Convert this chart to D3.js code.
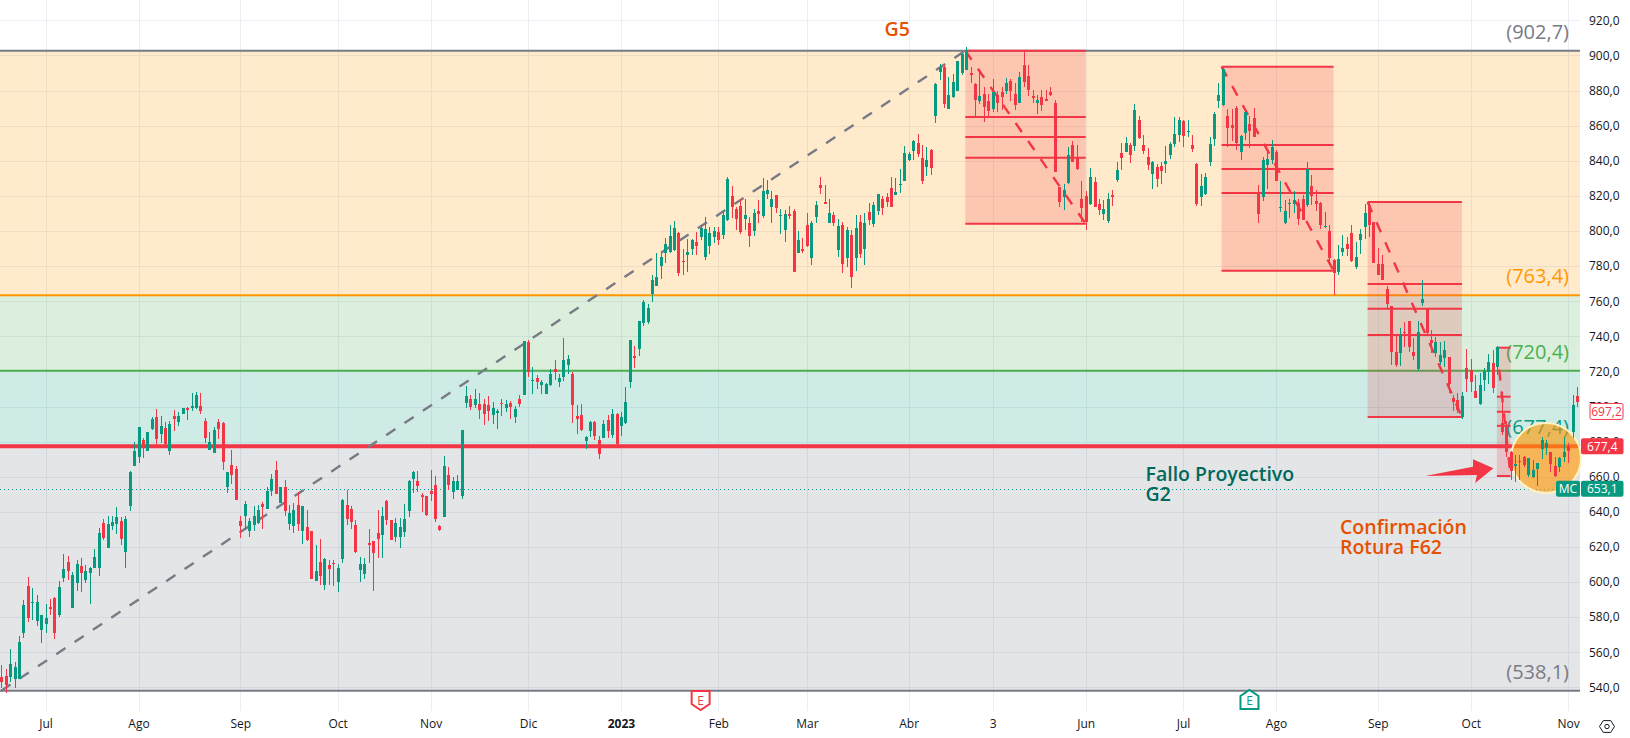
<!DOCTYPE html>
<html>
<head>
<meta charset="utf-8">
<script src="https://cdn.jsdelivr.net/npm/d3@7"></script>
<style>
  html, body { margin: 0; padding: 0; background: #fff; overflow: hidden; }
  svg { display: block; }
  text { font-family: "Open Sans", sans-serif; }
</style>
</head>
<body>
<svg></svg>
<script>
// each candle is open, high, low, close, one list per month
let jun22 = [[546,552.6,539.4,543.2],[546.6,550.2,536.9,541.2],[546,561.6,543.2,553.2],[545,554.6,539.4,551.7],[545,569.2,544.7,565.8],[570.7,589.7,568.4,586.9],[597.7,603,577.4,579.6],[588.2,596.7,578.3,588.7],[577.9,592.5,574.9,588.6],[572.6,581.5,565.4,581.2]];
let jul22 = [[576,587.4,570.7,579.4],[585.7,590.3,581.2,584.6],[590.8,591.2,567.7,571.1],[581.2,600.5,580.2,596.9],[602.4,615.9,599.8,607.4],[611.4,614.8,601.1,606.4],[585.3,605.9,585.1,604],[599.6,612.5,595,610],[609,613.8,594.1,604.9],[601.1,609.5,599.2,606.2],[605.3,608.7,587.6,608],[608,618.8,607.8,614.2],[608.1,630.6,603.6,627.9],[633.4,635.9,623.9,625.2],[619.5,637.6,619.3,633],[631.9,637.6,629.6,634.2],[632.8,642.9,627.1,637],[634.7,636.8,621.1,624.5],[617.3,637.6,608,635.9],[643.3,663.4,640.4,662.7],[666.1,679.6,665.9,674.6]];
let ago22 = [[671.2,688.5,668,688.3],[680.7,681.9,670.6,676.1],[674.8,685.7,674.6,685.5],[687,693.8,686.6,692.9],[693.8,698.6,678.6,681.5],[684.3,694.6,679,688.9],[687.6,691,678,678.6],[674.8,691.9,672.5,690],[694.6,698,686,692.9],[691.2,697.1,689.1,694.6],[695.7,699.1,695.5,698.9],[699,699.5,692.3,698],[699.3,707.5,697.4,700.3],[699,708.3,698.6,706.7],[700.3,707.5,695.9,697.4],[691.7,693.2,679.4,682.2],[675.4,685.7,675.2,679.8],[673.7,688.5,673.5,686.6],[691.2,692.7,681.3,687.2],[690.8,691.2,663.8,668.6],[654.3,662.8,650.9,662.7],[666.6,675.2,655.8,661],[664.4,666.1,646.6,646.7]];
let sep22 = [[634.7,637.6,625.2,631.9],[637.6,646.1,629.6,644.4],[629.2,636.3,625.8,634.7],[632.5,643.3,629.2,637.6],[633.8,643.9,633,641],[644.4,645.8,630.2,642.9],[641.8,653.9,641.7,651.8],[652,661.5,649.2,658.9],[663.8,668.9,650,650.1],[645,654.3,644.8,654.1],[654.1,658.1,637.6,640.6],[633,643.9,629.6,639.1],[631.9,644.8,628.1,641],[643.7,651.4,629.2,633],[629.2,643.4,621.6,643.3],[631.3,641,623.5,623.9],[629,629.1,601.9,602],[600.7,621.1,600.6,606.2],[611.4,624.5,598.6,603.4],[598.2,613.5,595.4,613.3],[609.6,612.5,598.2,607.4],[610.8,612.5,597.9,610.4]];
let oct22 = [[600,610.2,594.3,608],[613.1,647.1,611,646.7],[643.7,652.4,632.5,636.2],[641.4,643.3,630.2,634.4],[632.5,635.3,616.7,617.1],[606.8,614.4,600,610.2],[604.5,613.5,601.5,610.2],[622,630.2,610.6,621.2],[623.3,623.4,594.8,616.7],[627.9,641,613.6,624.5],[626.8,642.9,613.6,637.6],[646.1,646.7,632.5,635.5],[635.2,635.3,623.7,623.9],[625.6,636.3,623,633.6],[625.8,636.3,619.5,631.3],[628.5,644.2,625.8,635.9],[640.6,658.1,637.2,657.7],[658.7,663.4,650.9,662.7],[657.3,663.4,651.4,654.7],[649.5,650.5,639.9,648.4],[649,649,637.6,638.2]];
let nov22 = [[651.8,663.8,646.3,650.1],[655.3,660.4,634.2,635.7],[631.9,632.4,629,629.6],[637.2,671.8,637,666],[661,665.3,652.4,655.3],[651.4,660,647.5,657.5],[652.4,661,652.2,657.5],[649.2,686.6,647.3,686.5],[702.1,711.9,698.9,705.9],[704.2,706.4,697.9,699.8],[700.8,710.2,698.9,704.2],[701.7,707.6,692.9,697.9],[701.3,704,689.4,696],[700.6,705.9,691.8,697.3],[695,702.3,690.3,699],[696.4,698.3,687,697.7],[701.9,704.5,694.5,701.3],[699.2,703.6,696.9,701.7],[701.9,703.2,692.9,699.8],[693.9,700.5,690.5,698.5],[704.2,706.4,699.8,701.5],[706.8,737.3,706.4,737.2]];
let dic22 = [[736.7,737.8,716.9,719.9],[714.6,722.4,707.2,715],[716,718.2,709.9,714.1],[712.2,715,707.4,713.7],[707.2,713.6,707,712.7],[712.2,721.1,711.6,718.8],[721.6,726.4,715,719.8],[713.9,718.4,711.2,716.1],[716.7,738.9,714.6,726.4],[723.5,729.2,718.4,726.8],[718.6,719.7,690.7,700.8],[694.5,700.8,684.2,692.8],[695,701.7,686.1,686.5],[680.2,683.1,676,682.5],[685.9,691.6,682.7,691],[691,691.8,680.8,683.3],[681.2,683.1,670,672.8],[682.3,692.2,681.9,689.9],[692.2,695.4,682.3,685.9],[683.7,698.3,682.1,696],[696,696.1,678,678.9]];
let ene23 = [[688.8,696.6,683.1,694.1],[690.5,711,690.3,702.5],[713.9,737.9,710.4,737.8],[728.7,734.4,721.8,727.5],[733,748.7,728.7,748.6],[747.5,760.6,746,759.3],[748,758.5,747.1,756],[764,775.2,759.5,772],[768.8,787.6,768.6,773.7],[780,787.6,772.6,785.3],[787.6,795.8,781.9,792.5],[788.3,803.4,787.6,796.9],[789.1,805.6,788.7,801.6],[798.8,799.4,774.3,776],[782.8,789.7,774.8,782.3],[786.3,795.4,776.6,788],[789.7,795.6,786.3,794.8],[793.5,799.2,786.3,791.4],[796.5,803.4,794.8,801.6],[785.1,807.9,783.4,801.1],[791.4,802,786.8,798.8],[796.5,802,792.9,799.9]];
let feb23 = [[799.7,802,792,794.8],[797.7,811.3,795.2,809],[806.2,830.5,805.8,829.6],[819.9,825.6,807.2,813.6],[812.3,813.8,800.5,806.8],[814.2,818,798.2,799.4],[806.8,818.2,800.5,809],[804.5,807.7,790.8,797.1],[799.9,812.8,797.3,810.2],[811.3,817.6,804.5,809.6],[808.5,830,807.4,822.7],[821,829,818.2,823.3],[813.6,822.7,804.5,818.2],[820.4,820.5,810.2,813],[808.5,812.7,798.2,809],[800.5,811.9,793.7,809.6],[809.6,814.2,806.8,808.5],[811.3,812.3,776.5,776.6],[787.4,799.9,787.2,794.8],[789.7,795.8,787.4,788.5]];
let mar23 = [[803.4,810,790.8,791.4],[784.5,805.6,780.5,804.5],[807.9,817,804.5,814.7],[826.1,830.7,821,824.4],[816.5,826.1,815.1,815.3],[804.5,818,804.3,810.2],[809,810.8,802.8,804.5],[789.1,807.1,785.1,802.8],[803.2,805.3,775.8,781.1],[784.7,802.4,779.6,800.5],[797.7,800.5,767.6,773.9],[784.7,809.1,777.1,801.6],[805.1,809.1,784.5,786.8],[789.7,810,780.6,804.5],[810.8,815.7,803.4,806.2],[803.9,816.3,802.4,814.7],[811.3,821.1,809.1,821],[818.2,819.9,809.1,813],[819.3,821.4,813.8,816.5],[824.4,830.5,813.4,813.6],[820.5,830,820.3,822.2],[826.2,835.3,821.6,826.7],[828.4,848.4,828.2,844.4]];
let abr23 = [[840.4,845.2,839.8,843.8],[845.5,851.8,840.4,851.2],[850.1,855.2,842.1,843.8],[841.5,848.9,826.7,828.4],[836.4,847.8,831.3,840.4],[846.1,846.7,831.9,835.8],[865.5,884.5,861.7,883.7],[890.6,895.1,886,893.2],[893.4,894.5,870,872.3],[869.5,887.9,869.3,877.5],[876.1,889.4,875.7,884.9],[879.7,896.9,879.5,896.8],[890,901.2,888.9,901],[891.7,904.6,891.5,902.5],[890,893.6,884.1,888.9],[883.7,884.1,864.9,874.6],[874,891.7,872.3,876.9],[878,881.8,862,870.6],[874,878,864.9,868.3]];
let may23 = [[869.5,886.6,867.8,879.2],[877.5,879.5,867.8,872.9],[879.2,882.2,868.9,876.3],[879.7,887.1,878,884.3],[885.4,886.6,874,879.7],[878,884.1,868.9,871.8],[872.9,890.6,872.7,887.7],[894.6,902.5,882.2,884.9],[888.3,894.6,876.9,880.3],[876.9,880.3,873.1,875.7],[872.9,877.5,866.6,874.6],[876.3,880.3,868.3,871.8],[875.2,880.3,873.8,874],[879.2,882.2,877,877.5],[872.9,874.6,833.4,833.6],[824.8,825,813.8,816.5],[819.5,826.7,811.9,823.3],[827.1,847.6,826.7,843.1],[848.9,851.2,839.1,839.3],[842.3,848.9,834.7,835.1],[818.2,828.4,805,813]];
let jun23 = [[819.9,822.7,800.5,805],[815.3,835.8,814.8,830.7],[827.9,830.7,813.4,813.6],[815.3,818.2,809.1,811.9],[809.6,817.6,806.2,812.5],[805.6,821.4,804.5,818.2],[820.5,823.3,814.2,819.5],[829,839.3,827.9,834.7],[844.2,850.3,834.7,841.5],[845,853.5,844.8,850.1],[848.9,850.1,838.7,843.3],[848.4,872.3,845.5,868.9],[863.2,865.5,852.2,852.9],[848.9,854.6,843.8,845.5],[842.1,847.2,834.7,837.5],[832.4,839.8,823.9,839.3],[836.4,838.1,825.2,829.6],[837,839.3,826.7,834.1],[838.1,848.4,833,839.8],[843.3,850.7,841,849.5],[849.5,864.7,847.8,855.2],[854.7,864.7,850.7,863.2]];
let jul23 = [[862.6,863.2,847.8,854.1],[856.5,863.4,853.5,856.9],[848.9,854.7,845,846.7],[838.1,838.9,814.2,815.3],[819.3,832.4,814.2,825.6],[821,833,820.5,830.7],[839.3,853.7,837,849.5],[852.4,867.8,848.4,866.6],[874,884.1,870,877.5],[871.8,892.8,871.2,892.3],[865.5,869.3,848,858.6],[860.4,869.3,851.2,858.6],[870,871.2,846.1,850.1],[845,854.5,840.4,854],[855.8,867.8,851.8,867.7],[860.9,865.5,847.2,856.9],[864.3,870,853.3,853.5],[821,826.2,804.5,809.6],[819.3,842.1,817,840.4],[837.6,845,823.9,841],[840.4,851.8,838.1,847.8]];
let ago23 = [[845,846.1,828.2,828.4],[813,828.4,810.8,813.6],[804.5,817.6,803.9,811.3],[815.3,818.2,807.3,815.9],[815.3,822.7,810.4,817.6],[815.9,818.2,803.4,806.8],[818.2,820.5,806,806.2],[814.8,839.3,813.6,835.1],[825.6,831.8,814.8,819.9],[817,823.3,811.3,815.3],[815.9,816.5,801.1,803.4],[802.2,810.6,801.6,802.8],[799.9,803.4,781.5,784.5],[783.7,783.8,763.4,776.2],[776.6,792,774.9,783.9],[788,797.6,785.7,790.2],[792.5,796.7,785.7,789.7],[798.8,803.4,782.3,782.8],[779.4,793.9,778.6,785.1],[794.8,801.1,786.8,798.2],[802.2,815.3,795.4,810.2],[814.7,816.5,796.5,803.4],[805,805.1,781.5,781.7]];
let sep23 = [[781.1,790.2,774.7,774.9],[781.1,786.3,771.8,772],[766.9,768.6,755.8,758.3],[757.1,757.2,723.6,731.3],[731.3,740.8,722.3,723.7],[730.3,744.5,723.1,740.6],[742.7,748,734.1,741.7],[748.7,748.8,731.3,734.1],[730.9,738.9,726.5,729],[721.2,748.7,720.4,742.3],[758.8,772.1,757.5,761.3],[755.6,755.7,741.5,741.7],[737.9,743.6,730.3,736],[730.7,739.8,728.4,736.8],[725.6,737,723.7,729.2],[727.8,737.3,722.7,732.2],[728,728.1,707.5,712.8],[705,706.6,697.4,702.8],[703.7,707.9,696.1,698],[694.2,708.1,693.1,706],[721.8,732.8,708.5,715.7]];
let oct23 = [[720.8,726.9,708.5,714.2],[708.8,717.9,704.8,705],[701.2,718.9,700.9,712.3],[715.1,722.1,709,720.2],[719.5,729.7,712.6,725.5],[724.6,732.2,707.9,710.4],[722.7,734.5,717.9,733.7],[690.4,708.3,683.8,685.7],[689,692,671.4,674.2],[674.2,674.5,658.3,663],[666,672.3,657.2,667],[669,672.3,658.1,668.4],[671,671.9,665.7,666.6],[661,670.6,660,670.5],[659.6,669.5,659,663.8],[664.2,668,654.9,668],[675.8,682.8,669.9,680.9],[676.5,680.9,672.3,679],[673.9,674,662.8,667.2],[666,671,660,660.4],[665.7,671,662.8,670.4],[671,682.8,668.2,674.3]];
let nov23 = [[677.7,679,668,674.8],[685.6,706.6,681.9,700.9],[706,710.9,699.9,702.4]];

let candles = [].concat(jun22, jul22, ago22, sep22, oct22, nov22, dic22, ene23, feb23, mar23, abr23, may23, jun23, jul23, ago23, sep23, oct23, nov23);

let timeTicks = [10, 31, 54, 76, 97, 119, 140, 162, 182, 205, 224, 245, 267, 288, 311, 332, 354];
let timeLabels = ['Jul', 'Ago', 'Sep', 'Oct', 'Nov', 'Dic', '2023', 'Feb', 'Mar', 'Abr', '3', 'Jun', 'Jul', 'Ago', 'Sep', 'Oct', 'Nov'];
let priceTicks = d3.range(540, 921, 20);

let fibLevels = [902.7, 763.4, 720.4, 677.4, 538.1];
let fibLabels = ['(902,7)', '(763,4)', '(720,4)', '(677,4)', '(538,1)'];
let fibColors = ['#787b86', '#ff9800', '#4caf50', '#089981', '#787b86'];
let bandColors = ['#ff9800', '#4caf50', '#089981', '#787b86'];

// red fib boxes on the way down
let boxStarts = [217.8, 275.7, 308.7, 337.9];
let boxEnds = [245, 301, 330, 341];
let boxLevels = [
    [902.7, 864.9, 853.5, 841.7, 804.1],
    [893.6, 849, 835.3, 821.6, 777.4],
    [816.5, 769.8, 755.7, 740.7, 694],
    [733.5, 705.6, 697, 689, 660.4]
];

let lastPrice = 697.2;
let closeMc = 653.1;
let fibPrice = 677.4;
let earnings = [158, 282];
let earningsColors = ['#f23645', '#089981'];

let arrowIdx = [321.7, 332.5, 332.5, 337.1, 333, 333.4];
let arrowPrice = [660.4, 665.7, 669.9, 664.8, 656.4, 661];

let width = 1630;
let height = 738;
let plotRight = 1580;
let plotBottom = 711;

let green = '#089981';
let red = '#f23645';

let svg = d3.select('svg').attr('width', width).attr('height', height);

let xScale = d3.scaleLinear().domain([0, 356]).range([1.3, 1577]);
let yScale = d3.scaleLinear().domain([538.1, 902.7]).range([690.7, 50.7]);

let px = (i) => Math.round(xScale(i)) + 0.5;

let drawGrid = () => {
    let grid = svg.append('g').attr('stroke', '#ebeef5').attr('stroke-width', 1);
    grid.selectAll('.hgrid')
        .data(priceTicks)
        .enter().append('line')
        .attr('x1', 0).attr('x2', plotRight)
        .attr('y1', (d) => Math.round(yScale(d)) + 0.5)
        .attr('y2', (d) => Math.round(yScale(d)) + 0.5)
    grid.selectAll('.vgrid')
        .data(timeTicks)
        .enter().append('line')
        .attr('x1', px).attr('x2', px)
        .attr('y1', 0).attr('y2', plotBottom)
}

let drawFib = () => {
    svg.append('g').selectAll('rect')
        .data(bandColors)
        .enter().append('rect')
        .attr('x', 0)
        .attr('width', plotRight)
        .attr('y', (d, i) => yScale(fibLevels[i]))
        .attr('height', (d, i) => yScale(fibLevels[i + 1]) - yScale(fibLevels[i]))
        .attr('fill', (d) => d)
        .attr('fill-opacity', 0.2)

    svg.append('g').selectAll('line')
        .data(fibLevels)
        .enter().append('line')
        .attr('x1', 0).attr('x2', plotRight)
        .attr('y1', (d) => yScale(d))
        .attr('y2', (d) => yScale(d))
        .attr('stroke', (d, i) => i === 3 ? red : fibColors[i])
        .attr('stroke-width', (d, i) => i === 3 ? 4 : 2)

    svg.append('g').selectAll('text')
        .data(fibLabels)
        .enter().append('text')
        .attr('x', 1569)
        .attr('y', (d, i) => yScale(fibLevels[i]) - 12)
        .attr('text-anchor', 'end')
        .attr('font-size', 20)
        .attr('fill', (d, i) => fibColors[i])
        .text((d) => d)
}

let drawBoxes = () => {
    boxStarts.forEach((start, i) => {
        let levels = boxLevels[i];
        let box = svg.append('g');
        box.append('rect')
            .attr('x', xScale(start))
            .attr('width', xScale(boxEnds[i]) - xScale(start))
            .attr('y', yScale(levels[0]))
            .attr('height', yScale(levels[4]) - yScale(levels[0]))
            .attr('fill', red)
            .attr('fill-opacity', 0.2)
        box.selectAll('line')
            .data(levels)
            .enter().append('line')
            .attr('x1', xScale(start)).attr('x2', xScale(boxEnds[i]))
            .attr('y1', (d) => yScale(d))
            .attr('y2', (d) => yScale(d))
            .attr('stroke', red)
            .attr('stroke-width', 2)
        box.append('line')
            .attr('x1', xScale(start)).attr('x2', xScale(boxEnds[i]))
            .attr('y1', yScale(levels[0]))
            .attr('y2', yScale(levels[4]))
            .attr('stroke', red)
            .attr('stroke-width', 2.4)
            .attr('stroke-dasharray', '11,11')
    })

    svg.append('line')
        .attr('x1', xScale(0)).attr('x2', xScale(boxStarts[0]))
        .attr('y1', yScale(538.1)).attr('y2', yScale(902.7))
        .attr('stroke', '#787b86')
        .attr('stroke-width', 2.4)
        .attr('stroke-dasharray', '11,11')
}

let drawNotes = () => {
    svg.append('line')
        .attr('x1', 0).attr('x2', plotRight)
        .attr('y1', Math.round(yScale(closeMc)) + 0.5)
        .attr('y2', Math.round(yScale(closeMc)) + 0.5)
        .attr('stroke', green)
        .attr('stroke-dasharray', '1,3')

    let arrowPoints = arrowIdx.map((d, i) => [xScale(d), yScale(arrowPrice[i])]);
    svg.append('path')
        .attr('d', d3.line()(arrowPoints) + 'Z')
        .attr('fill', red)

    svg.append('circle')
        .attr('cx', xScale(349))
        .attr('cy', yScale(670.7))
        .attr('r', 35)
        .attr('fill', '#ff9800')
        .attr('fill-opacity', 0.62)
        .attr('stroke', '#fff3c4')
        .attr('stroke-width', 2)

    let notes = [
        { text: 'G5', x: 884.5, y: 36, color: '#e65100' },
        { text: 'Fallo Proyectivo', x: 1145.5, y: 481, color: '#00695c' },
        { text: 'G2', x: 1145.5, y: 501, color: '#00695c' },
        { text: 'Confirmación', x: 1340, y: 534, color: '#e65100' },
        { text: 'Rotura F62', x: 1340, y: 554, color: '#e65100' }
    ]
    svg.append('g').selectAll('text')
        .data(notes)
        .enter().append('text')
        .attr('x', (d) => d.x)
        .attr('y', (d) => d.y)
        .attr('font-size', 19.5)
        .attr('font-weight', 600)
        .attr('fill', (d) => d.color)
        .text((d) => d.text)
}

let drawCandles = () => {
    let g = svg.append('g').attr('shape-rendering', 'crispEdges');
    let color = (d) => d[3] >= d[0] ? green : red;

    g.selectAll('.wick')
        .data(candles)
        .enter().append('line')
        .attr('class', 'wick')
        .attr('x1', (d, i) => px(i))
        .attr('x2', (d, i) => px(i))
        .attr('y1', (d) => yScale(d[1]))
        .attr('y2', (d) => yScale(d[2]))
        .attr('stroke', color)

    g.selectAll('.body')
        .data(candles)
        .enter().append('rect')
        .attr('class', 'body')
        .attr('x', (d, i) => px(i) - 1.5)
        .attr('width', 3)
        .attr('y', (d) => yScale(Math.max(d[0], d[3])))
        .attr('height', (d) => Math.max(1, Math.abs(yScale(d[0]) - yScale(d[3]))))
        .attr('fill', color)
}

let drawAxes = () => {
    let yAxis = d3.axisRight(yScale)
        .tickValues(priceTicks)
        .tickSize(0)
        .tickPadding(0)
        .tickFormat((d) => d3.format('.1f')(d).replace('.', ','));
    let yG = svg.append('g').attr('transform', 'translate(1589, 0)').call(yAxis);

    let xAxis = d3.axisBottom(xScale)
        .tickValues(timeTicks)
        .tickSize(0)
        .tickPadding(8)
        .tickFormat((d, i) => timeLabels[i]);
    let xG = svg.append('g').attr('transform', `translate(0, ${plotBottom})`).call(xAxis);
    xG.selectAll('text').attr('font-weight', (d, i) => timeLabels[i] === '2023' ? 700 : 400);

    [yG, xG].forEach((g) => {
        g.select('.domain').remove();
        g.selectAll('text')
            .attr('font-family', 'Roboto, sans-serif')
            .attr('font-size', 12)
            .attr('fill', '#131722');
    })
}

let drawTags = () => {
    let tag = (x, w, price, label, fill, stroke, color, weight) => {
        let y = yScale(price);
        svg.append('rect')
            .attr('x', x).attr('width', w)
            .attr('y', y - 8).attr('height', 16)
            .attr('rx', 2)
            .attr('fill', fill)
            .attr('stroke', stroke)
        svg.append('text')
            .attr('x', x + w / 2)
            .attr('y', y + 4.5)
            .attr('text-anchor', 'middle')
            .attr('font-family', 'Roboto, sans-serif')
            .attr('font-size', 12)
            .attr('font-weight', weight)
            .attr('fill', color)
            .text(label)
    }
    let comma = (v) => v.toFixed(1).replace('.', ',');
    tag(1590, 33, lastPrice, comma(lastPrice), '#fff', red, red, 400);
    tag(1581, 42.5, fibPrice, comma(fibPrice), red, 'none', '#fff', 500);
    tag(1581, 42.5, closeMc, comma(closeMc), green, 'none', '#fff', 500);
    tag(1556, 24, closeMc, 'MC', green, 'none', '#fff', 500);
}

let drawEarnings = () => {
    earnings.forEach((idx, i) => {
        let x = xScale(idx);
        let down = [[x - 9, 691], [x + 9, 691], [x + 9, 704], [x, 710], [x - 9, 704]];
        let up = [[x - 9, 709], [x + 9, 709], [x + 9, 696], [x, 690], [x - 9, 696]];
        svg.append('path')
            .attr('d', d3.line()(i === 0 ? down : up) + 'Z')
            .attr('fill', '#fff')
            .attr('stroke', earningsColors[i])
            .attr('stroke-width', 2)
        svg.append('text')
            .attr('x', x)
            .attr('y', 705)
            .attr('text-anchor', 'middle')
            .attr('font-size', 12)
            .attr('fill', earningsColors[i])
            .text('E')
    })
}

let drawGear = () => {
    let hexagon = d3.range(6).map((k) => {
        let a = Math.PI / 3 * k;
        return [1607 + 7.5 * Math.cos(a), 726.5 + 6.8 * Math.sin(a)];
    })
    svg.append('path')
        .attr('d', d3.line()(hexagon) + 'Z')
        .attr('fill', 'none')
        .attr('stroke', '#131722')
    svg.append('circle')
        .attr('cx', 1607).attr('cy', 726.5).attr('r', 2.2)
        .attr('fill', 'none')
        .attr('stroke', '#131722')
}

drawGrid()
drawFib()
drawBoxes()
drawNotes()
drawCandles()
drawAxes()
drawTags()
drawEarnings()
drawGear()
</script>
</body>
</html>
